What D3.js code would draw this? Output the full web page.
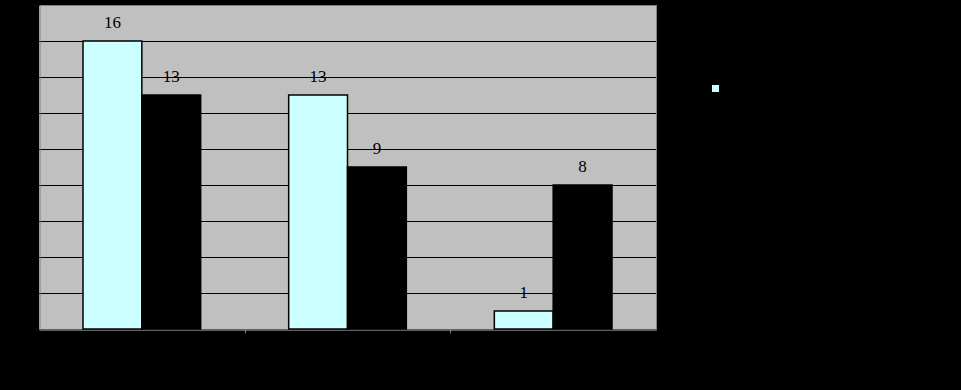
<!DOCTYPE html>
<html lang="en">
<head>
  <meta charset="UTF-8">
  <title>Grouped Bar Chart</title>
  <script src="https://d3js.org/d3.v7.min.js"></script>
  <style>
    body {
      margin: 0;
      background: #000;
    }
    svg {
      display: block;
    }
    .label {
      font-family: "Liberation Serif", "Times New Roman", serif;
      font-size: 17px;
      fill: #000;
    }
  </style>
</head>
<body>
  <div id="chart"></div>

  <script>
    const categories = ["A", "B", "C"];
    const seriesNames = ["Series 1", "Series 2"];
    const series1 = [16, 13, 1];
    const series2 = [13, 9, 8];
    const yTicks = [0, 2, 4, 6, 8, 10, 12, 14, 16, 18];
    const colors = ["#ccffff", "#000000"];

    const w = 961;
    const h = 390;
    const plot = { left: 39, top: 5, right: 656, bottom: 329 };

    const svg = d3.select("#chart")
                  .append("svg")
                  .attr("width", w)
                  .attr("height", h);

    svg.append("rect")
       .attr("width", w)
       .attr("height", h)
       .attr("fill", "#000");

    const x0 = d3.scaleBand()
                 .domain(categories)
                 .range([plot.left, plot.right])
                 .paddingInner(0)
                 .paddingOuter(0);

    const x1 = d3.scaleBand()
                 .domain(seriesNames)
                 .range([44, x0.bandwidth() - 44]);

    const y = d3.scaleLinear()
                .domain([0, 18])
                .range([plot.bottom, plot.top]);

    // plot area
    svg.append("rect")
       .attr("x", plot.left)
       .attr("y", plot.top)
       .attr("width", plot.right - plot.left)
       .attr("height", plot.bottom - plot.top)
       .attr("fill", "#c0c0c0");

    // grid lines
    svg.append("g")
       .selectAll("line")
       .data(yTicks.filter(d => d > 0 && d < 18))
       .enter()
       .append("line")
       .attr("x1", plot.left)
       .attr("x2", plot.right)
       .attr("y1", d => Math.round(y(d)) + 0.5)
       .attr("y2", d => Math.round(y(d)) + 0.5)
       .attr("stroke", "#000")
       .attr("stroke-width", 1);

    // frame: gray top/right edges
    svg.append("line")
       .attr("x1", plot.left).attr("x2", plot.right)
       .attr("y1", plot.top + 0.5).attr("y2", plot.top + 0.5)
       .attr("stroke", "#808080");
    svg.append("line")
       .attr("x1", plot.right + 0.5).attr("x2", plot.right + 0.5)
       .attr("y1", plot.top).attr("y2", plot.bottom + 1)
       .attr("stroke", "#808080");

    // y axis (labels are black on black, as in the original)
    const yAxis = d3.axisLeft(y).tickValues(yTicks).tickSize(4);
    const gy = svg.append("g")
       .attr("transform", `translate(${plot.left + 0.5}, 0)`)
       .call(yAxis);
    gy.select(".domain").attr("stroke", "#808080");
    gy.selectAll(".tick line").attr("stroke", "#000");
    gy.selectAll(".tick text")
      .attr("fill", "#000")
      .attr("dy", d => d === 18 ? "0.7em" : "0.32em")
      .style("font-family", "Liberation Serif, serif")
      .style("font-size", "13px");

    // x axis
    const xAxis = d3.axisBottom(x0).tickSize(0).tickFormat("");
    const gx = svg.append("g")
       .attr("transform", `translate(0, ${plot.bottom + 0.5})`)
       .call(xAxis);
    gx.select(".domain").attr("stroke", "#808080").attr("stroke-width", 1.5);
    gx.selectAll(".tick").remove();
    gx.selectAll(".sep")
      .data(categories.slice(1))
      .enter()
      .append("line")
      .attr("x1", d => Math.round(x0(d)) + 0.5)
      .attr("x2", d => Math.round(x0(d)) + 0.5)
      .attr("y1", 0)
      .attr("y2", 4)
      .attr("stroke", "#808080");

    // bars
    const rows = categories.map((c, i) => ({ cat: c, values: [series1[i], series2[i]] }));

    const groups = svg.selectAll(".group")
       .data(rows)
       .enter()
       .append("g")
       .attr("transform", d => `translate(${x0(d.cat)}, 0)`);

    groups.selectAll("rect")
       .data(d => d.values.map((v, j) => ({ name: seriesNames[j], value: v, j: j })))
       .enter()
       .append("rect")
       .attr("x", d => x1(d.name))
       .attr("y", d => y(d.value))
       .attr("width", x1.bandwidth())
       .attr("height", d => y(0) - y(d.value))
       .attr("fill", d => colors[d.j])
       .attr("stroke", "#000")
       .attr("stroke-width", 1.5);

    groups.selectAll("text")
       .data(d => d.values.map((v, j) => ({ name: seriesNames[j], value: v })))
       .enter()
       .append("text")
       .attr("class", "label")
       .attr("x", d => x1(d.name) + x1.bandwidth() / 2)
       .attr("y", d => y(d.value) - 13)
       .attr("text-anchor", "middle")
       .text(d => d.value);

    // legend
    const legend = svg.append("g")
       .attr("transform", "translate(712, 85)");
    legend.selectAll("rect")
       .data(seriesNames)
       .enter()
       .append("rect")
       .attr("x", 0)
       .attr("y", (d, i) => i * 22)
       .attr("width", 7)
       .attr("height", 7)
       .attr("fill", (d, i) => colors[i]);
    legend.selectAll("text")
       .data(seriesNames)
       .enter()
       .append("text")
       .attr("x", 14)
       .attr("y", (d, i) => i * 22 + 7)
       .attr("fill", "#000")
       .style("font-family", "Liberation Serif, serif")
       .style("font-size", "14px")
       .text(d => d);
  </script>
</body>
</html>
